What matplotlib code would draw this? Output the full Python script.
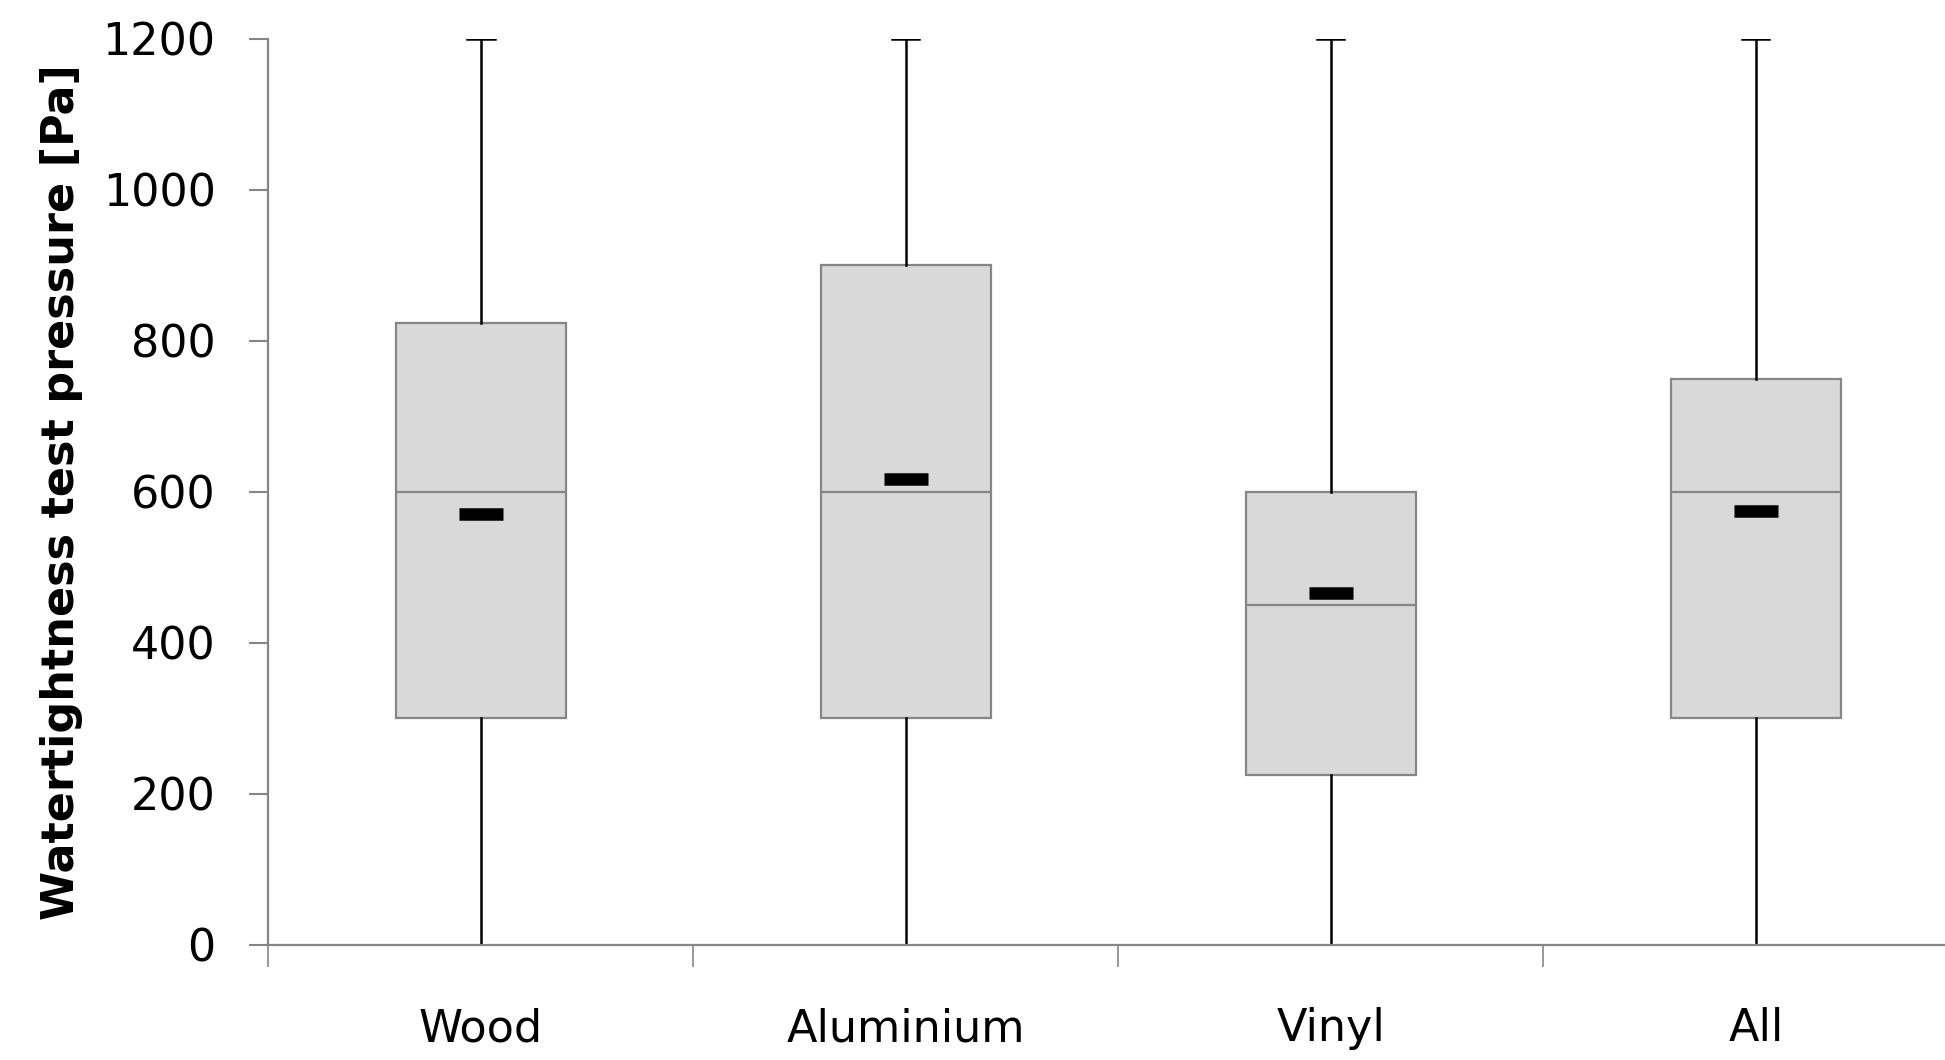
import matplotlib

matplotlib.use("Agg")
import matplotlib.pyplot as plt

# values
categories = ["Wood", "Aluminium", "Vinyl", "All"]
whisker_low = [0, 0, 0, 0]
q1 = [300, 300, 225, 300]
medians = [600, 600, 450, 600]
q3 = [824, 900, 600, 750]
whisker_high = [1200, 1200, 1200, 1200]
means = [570, 617, 466, 575]
y_ticks = [0, 200, 400, 600, 800, 1000, 1200]

GRAY = "#868686"
plt.rcParams["font.family"] = "DejaVu Sans"

stats = [
    {"label": c, "whislo": lo, "q1": a, "med": m, "q3": b, "whishi": hi, "mean": mu}
    for c, lo, a, m, b, hi, mu in zip(categories, whisker_low, q1, medians, q3, whisker_high, means)
]

fig = plt.figure(figsize=(19.45, 10.6), dpi=100)
ax = fig.add_axes([0.138, 0.1085, 0.862, 0.855])

ax.bxp(
    stats,
    positions=range(len(categories)),
    widths=0.40,
    showmeans=True,
    showfliers=False,
    patch_artist=True,
    boxprops=dict(facecolor="#d9d9d9", edgecolor=GRAY, linewidth=1.6),
    medianprops=dict(color=GRAY, linewidth=1.6),
    whiskerprops=dict(color="black", linewidth=1.8),
    capprops=dict(color="black", linewidth=1.8),
    capwidths=0.064,
    meanprops=dict(marker="_", markersize=32, markeredgewidth=9, color="black",
                   markeredgecolor="black"),
)

ax.set_xlim(-0.5, 3.445)
ax.set_ylim(0, 1200)
ax.set_yticks(y_ticks)
ax.set_yticklabels([str(v) for v in y_ticks], fontsize=32)

# category labels centred, ticks on category boundaries
ax.set_xticks(range(len(categories)))
ax.set_xticklabels(categories, fontsize=32)
ax.tick_params(axis="x", which="major", length=0, pad=45)
ax.set_xticks([i - 0.5 for i in range(len(categories))], minor=True)
ax.tick_params(axis="x", which="minor", length=16, width=1.2, color=GRAY, direction="out")
ax.tick_params(axis="y", length=14, width=1.5, color=GRAY, pad=24, direction="out")

ax.set_ylabel("Watertightness test pressure [Pa]", fontsize=32, fontweight="bold", labelpad=14)

for side in ("top", "right"):
    ax.spines[side].set_visible(False)
for side in ("left", "bottom"):
    ax.spines[side].set_color(GRAY)
    ax.spines[side].set_linewidth(1.6)

fig.savefig("out.png", dpi=100)
